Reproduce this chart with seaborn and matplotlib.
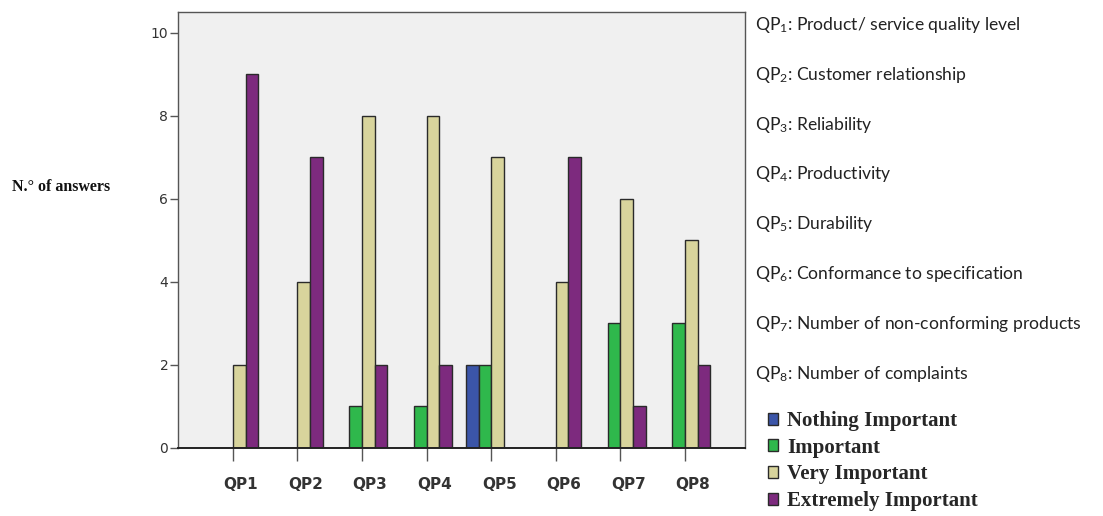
import matplotlib
matplotlib.use("Agg")
import matplotlib.pyplot as plt
import matplotlib.transforms as mtransforms
import seaborn as sns
import pandas as pd

# Survey counts per quality indicator and importance level
questions = ["QP1", "QP2", "QP3", "QP4", "QP5", "QP6", "QP7", "QP8"]
levels = ["Nothing Important", "Important", "Very Important", "Extremely Important"]
nothing_important = [0, 0, 0, 0, 2, 0, 0, 0]
important = [0, 0, 1, 1, 2, 0, 3, 3]
very_important = [2, 4, 8, 8, 7, 4, 6, 5]
extremely_important = [9, 7, 2, 2, 0, 7, 1, 2]

descriptions = [
    "Product/ service quality level",
    "Customer relationship",
    "Reliability",
    "Productivity",
    "Durability",
    "Conformance to specification",
    "Number of non-conforming products",
    "Number of complaints",
]

colors = ["#3b55a8", "#2fb84c", "#d8d49c", "#7d2a7e"]

rows = []
for lvl, vals in zip(levels, [nothing_important, important, very_important, extremely_important]):
    for q, v in zip(questions, vals):
        rows.append({"question": q, "level": lvl, "count": v})
df = pd.DataFrame(rows)

sns.set_style("white")
plt.rcParams["mathtext.default"] = "regular"

fig = plt.figure(figsize=(11.03, 5.16), dpi=100)
ax = fig.add_axes([0.1614, 0.1318, 0.5140, 0.8449])
ax.set_facecolor("#f0f0f0")

sns.barplot(data=df, x="question", y="count", hue="level", order=questions,
            hue_order=levels, palette=colors, saturation=1, width=0.78,
            edgecolor="#2a2a2a", linewidth=1.0, ax=ax, legend=True)

ax.set_xlim(-0.85, 7.93)
ax.set_ylim(0, 10.5)
ax.set_yticks([0, 2, 4, 6, 8, 10])
ax.set_xlabel("")
ax.set_ylabel("")

for side in ["left", "top", "right", "bottom"]:
    ax.spines[side].set_color("#555555")
    ax.spines[side].set_linewidth(1.0)
ax.spines["bottom"].set_color("#222222")
ax.spines["bottom"].set_linewidth(1.4)

ax.tick_params(axis="y", which="major", direction="out", length=6, width=1.0,
               color="#555555", labelsize=10, labelcolor="#333333", pad=1, left=True)
ax.tick_params(axis="x", which="major", direction="out", length=9, width=1.0,
               color="#555555", labelsize=11, labelcolor="#333333", pad=12, bottom=True)
for lbl in ax.get_xticklabels():
    lbl.set_fontweight("bold")
    lbl.set_transform(lbl.get_transform() + mtransforms.ScaledTranslation(8 / 100, 0, fig.dpi_scale_trans))

# Y axis title placed at the left edge
fig.text(12 / 1103, 1 - 187 / 516, "N.° of answers", family="Liberation Serif",
         fontweight="bold", fontsize=11.5, ha="left", va="center", color="#111111")

# Indicator descriptions
y0 = 25
step = 49.8
for i, d in enumerate(descriptions):
    fig.text(755 / 1103, 1 - (y0 + i * step) / 516, f"QP$_{{{i + 1}}}$: {d}",
             family="Lato", fontsize=12.6, ha="left", va="center", color="#222222")

# Legend for importance levels
leg = ax.get_legend()
handles = leg.legend_handles
leg.remove()
fig.legend(handles, levels, loc="upper left", bbox_to_anchor=(768 / 1103, 1 - 411 / 516),
           frameon=False, prop={"family": "Liberation Serif", "weight": "bold", "size": 15},
           handlelength=0.5, handleheight=0.5, handletextpad=0.4, labelspacing=0.32,
           borderaxespad=0, borderpad=0)

fig.savefig("out.png", dpi=100)
